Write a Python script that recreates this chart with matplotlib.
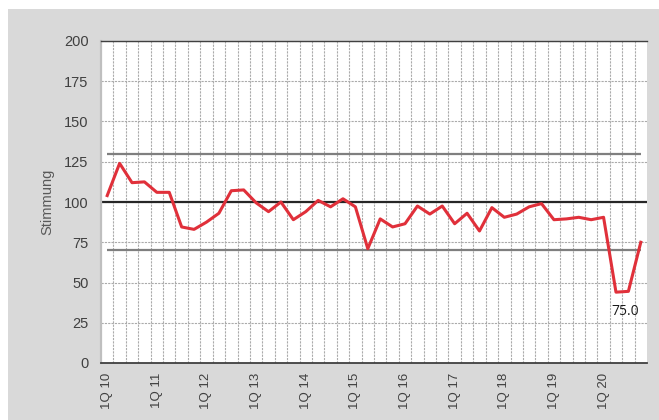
#! /usr/bin/python3

import matplotlib
matplotlib.use('Agg')
import matplotlib.pyplot as plt
from matplotlib.patches import Rectangle

YEARS = list(range(10, 21))
QUARTERS = [f'{q}Q {y}' for y in YEARS for q in range(1, 5)]

# Stimmung per quarter, 1Q 10 .. 4Q 20
STIMMUNG = [104, 124, 112, 112.5, 106, 106, 84.5, 83, 87.5, 93,
            107, 107.5, 99.5, 94, 100, 89, 94, 101, 97, 102,
            97, 71, 89.5, 84.5, 86.5, 97.5, 92.5, 97.5, 86.5, 93,
            82, 96.5, 90.5, 92.5, 97, 99, 89, 89.5, 90.5, 89,
            90.5, 44, 44.5, 75]

UPPER = 130
BASE = 100
LOWER = 70
Y_TICKS = [0, 25, 50, 75, 100, 125, 150, 175, 200]


def plot_stimmung(output_file='out.png'):
    fig = plt.figure(figsize=(6.59, 4.20), dpi=100)
    fig.patch.set_facecolor('white')
    # grey panel behind the chart
    fig.add_artist(Rectangle((8 / 659, 0), 1, 1 - 8.5 / 420,
                             transform=fig.transFigure,
                             facecolor='#d9d9d9', edgecolor='none', zorder=-10))

    ax = fig.add_axes([101 / 659, 1 - 363 / 420, 546 / 659, 322 / 420])
    ax.set_facecolor('white')

    x = list(range(len(QUARTERS)))
    ax.set_xlim(-0.5, len(QUARTERS) - 0.5)
    ax.set_ylim(0, 200)

    # grid
    ax.set_yticks(Y_TICKS)
    ax.set_xticks(x[::4])
    ax.set_xticklabels(QUARTERS[::4], rotation=90, fontsize=9.5,
                       color='#404040', family='Liberation Sans', va='top')
    ax.set_xticks([i + 0.5 for i in x[:-1]], minor=True)
    ax.grid(axis='y', which='major', color='#ababab', linestyle=(0, (2, 1)), linewidth=0.8)
    ax.grid(axis='x', which='minor', color='#ababab', linestyle=(0, (2, 1)), linewidth=0.8)
    ax.tick_params(axis='both', which='both', length=0)
    ax.tick_params(axis='y', pad=9)
    ax.tick_params(axis='x', pad=7)
    for lbl in ax.get_yticklabels():
        lbl.set_fontsize(10.5)
        lbl.set_color('#404040')
        lbl.set_family('Liberation Sans')

    # reference lines
    ax.hlines([UPPER, LOWER], 0, len(QUARTERS) - 1, color='#7f7f7f', linewidth=1.6, zorder=2)
    ax.axhline(BASE, color='#262626', linewidth=1.6, zorder=2)

    ax.plot(x, STIMMUNG, color='#e0303a', linewidth=2.2, zorder=3)

    ax.annotate(f'{STIMMUNG[-1]:.1f}', xy=(x[-1], STIMMUNG[-1]),
                xytext=(-11.5, -50), textcoords='offset points',
                ha='center', va='center', fontsize=10, family='Open Sans',
                color='#1a1a1a')

    ax.set_ylabel('Stimmung', fontsize=10.5, color='#595959', family='Liberation Sans')
    ax.yaxis.set_label_coords(-0.086, 0.5)

    ax.spines['right'].set_visible(False)
    ax.spines['top'].set_color('#404040')
    ax.spines['top'].set_linewidth(1.0)
    ax.spines['bottom'].set_color('#404040')
    ax.spines['bottom'].set_linewidth(1.3)
    ax.spines['left'].set_color('#bfbfbf')
    ax.spines['left'].set_linewidth(1.6)

    fig.savefig(output_file, dpi=100)


if __name__ == '__main__':
    plot_stimmung()
